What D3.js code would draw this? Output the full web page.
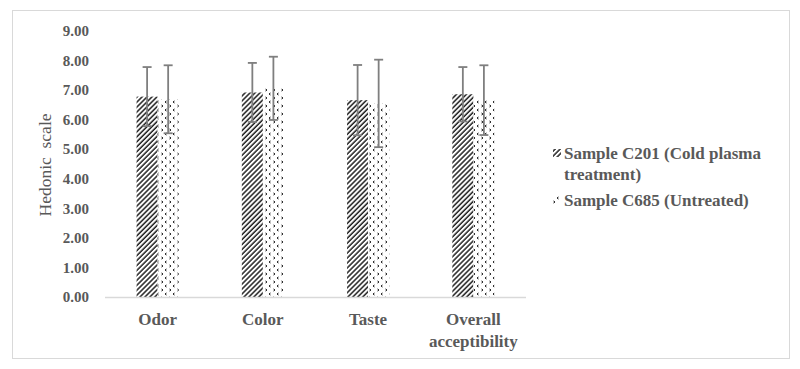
<!DOCTYPE html>
<html>
<head>
<meta charset="utf-8">
<script src="https://cdn.jsdelivr.net/npm/d3@7"></script>
<style>
	body { margin: 0; background: #ffffff; }
	text { font-family: 'Liberation Serif', 'Times New Roman', serif; fill: #595959; }
</style>
</head>
<body>
<script>
// data
	var categories = ['Odor', 'Color', 'Taste', 'Overall acceptibility'],
		series = ['Sample C201 (Cold plasma treatment)', 'Sample C685 (Untreated)'],
		c201 = [6.78, 6.92, 6.66, 6.86],
		c201_sd = [1.00, 1.00, 1.19, 0.92],
		c685 = [6.69, 7.06, 6.55, 6.66],
		c685_sd = [1.15, 1.07, 1.48, 1.18],
		y_ticks = [0, 1, 2, 3, 4, 5, 6, 7, 8, 9];

// parameters for layout
	var width = 800,
		height = 369,
		plot_left = 105,
		plot_right = 526,
		plot_top = 31,
		plot_bottom = 297;

	var svg = d3.select('body').append('svg')
		.attr('width', width)
		.attr('height', height);

// patterns
	var defs = svg.append('defs');
	var hatch = defs.append('pattern')
		.attr('id', 'hatch')
		.attr('patternUnits', 'userSpaceOnUse')
		.attr('width', 3.5)
		.attr('height', 3.5)
		.attr('patternTransform', 'rotate(45)');
	hatch.append('rect').attr('width', 3.5).attr('height', 3.5).attr('fill', '#fff');
	hatch.append('line')
		.attr('x1', 1).attr('y1', 0).attr('x2', 1).attr('y2', 3.5)
		.attr('stroke', '#111').attr('stroke-width', 1.4);

	var dots = defs.append('pattern')
		.attr('id', 'dots')
		.attr('patternUnits', 'userSpaceOnUse')
		.attr('width', 8)
		.attr('height', 8);
	dots.append('rect').attr('width', 8).attr('height', 8).attr('fill', '#fff');
	dots.append('path')
		.attr('d', 'M1.5,1 L3,2 L1.5,3 M6.5,5 L5,6 L6.5,7')
		.attr('fill', 'none').attr('stroke', '#111').attr('stroke-width', 1);

// outline
	svg.append('rect')
		.attr('x', 12.5).attr('y', 10.5)
		.attr('width', 777).attr('height', 348)
		.attr('fill', 'none')
		.attr('stroke', '#d9d9d9');

// scales
	var x = d3.scaleBand().domain(categories).range([plot_left, plot_right]);
	var y = d3.scaleLinear().domain([0, 9]).range([plot_bottom, plot_top]);
	var bar_w = x.bandwidth() * 0.2;

// y tick labels
	svg.append('g').selectAll('text')
		.data(y_ticks).enter().append('text')
		.attr('x', 89)
		.attr('y', function(d) { return y(d); })
		.attr('dy', '0.35em')
		.attr('text-anchor', 'end')
		.style('font-size', '15px')
		.style('font-weight', 'bold')
		.text(function(d) { return d.toFixed(2); });

// y title
	svg.append('text')
		.attr('transform', 'translate(51,165) rotate(-90)')
		.attr('text-anchor', 'middle')
		.attr('xml:space', 'preserve')
		.style('white-space', 'pre')
		.style('font-size', '17.5px')
		.text('Hedonic  scale');

// bars
	var groups = [
		{ vals: c201, sd: c201_sd, fill: 'url(#hatch)', off: -1 },
		{ vals: c685, sd: c685_sd, fill: 'url(#dots)', off: 0 }
	];
	groups.forEach(function(g) {
		var gx = function(i) { return x(categories[i]) + x.bandwidth() / 2 + g.off * bar_w; };
		svg.append('g').selectAll('rect')
			.data(g.vals).enter().append('rect')
			.attr('x', function(d, i) { return gx(i); })
			.attr('y', function(d) { return y(d); })
			.attr('width', bar_w)
			.attr('height', function(d) { return plot_bottom - y(d); })
			.attr('fill', g.fill);
	});

// axis line
	svg.append('line')
		.attr('x1', plot_left).attr('x2', plot_right)
		.attr('y1', plot_bottom + 0.5).attr('y2', plot_bottom + 0.5)
		.attr('stroke', '#d9d9d9').attr('stroke-width', 1.5);

// error bars
	groups.forEach(function(g) {
		var eb = svg.append('g').attr('stroke', '#7f7f7f').attr('stroke-width', 1.8);
		g.vals.forEach(function(v, i) {
			var cx = x(categories[i]) + x.bandwidth() / 2 + g.off * bar_w + bar_w / 2,
				hi = y(v + g.sd[i]),
				lo = y(v - g.sd[i]);
			eb.append('line').attr('x1', cx).attr('x2', cx).attr('y1', hi).attr('y2', lo);
			eb.append('line').attr('x1', cx - 4.5).attr('x2', cx + 4.5).attr('y1', hi).attr('y2', hi);
			eb.append('line').attr('x1', cx - 4.5).attr('x2', cx + 4.5).attr('y1', lo).attr('y2', lo);
		});
	});

// category labels
	var cat_lines = [['Odor'], ['Color'], ['Taste'], ['Overall', 'acceptibility']];
	cat_lines.forEach(function(lines, i) {
		var t = svg.append('text')
			.attr('x', x(categories[i]) + x.bandwidth() / 2)
			.attr('y', 325)
			.attr('text-anchor', 'middle')
			.style('font-size', '17px')
			.style('font-weight', 'bold');
		lines.forEach(function(l, j) {
			t.append('tspan')
				.attr('x', x(categories[i]) + x.bandwidth() / 2)
				.attr('dy', j ? 22 : 0)
				.text(l);
		});
	});

// legend
	var legend = [
		{ lines: ['Sample C201 (Cold plasma', 'treatment)'], fill: 'url(#hatch)', y: 153 },
		{ lines: ['Sample C685 (Untreated)'], fill: 'url(#dots)', y: 200 }
	];
	legend.forEach(function(l) {
		svg.append('rect')
			.attr('x', 553).attr('y', l.y - 4)
			.attr('width', 8).attr('height', 8)
			.attr('fill', l.fill);
		var t = svg.append('text')
			.attr('x', 564).attr('y', l.y + 6)
			.style('font-size', '17px')
			.style('font-weight', 'bold');
		l.lines.forEach(function(s, j) {
			t.append('tspan').attr('x', 564).attr('dy', j ? 21 : 0).text(s);
		});
	});
</script>
</body>
</html>
